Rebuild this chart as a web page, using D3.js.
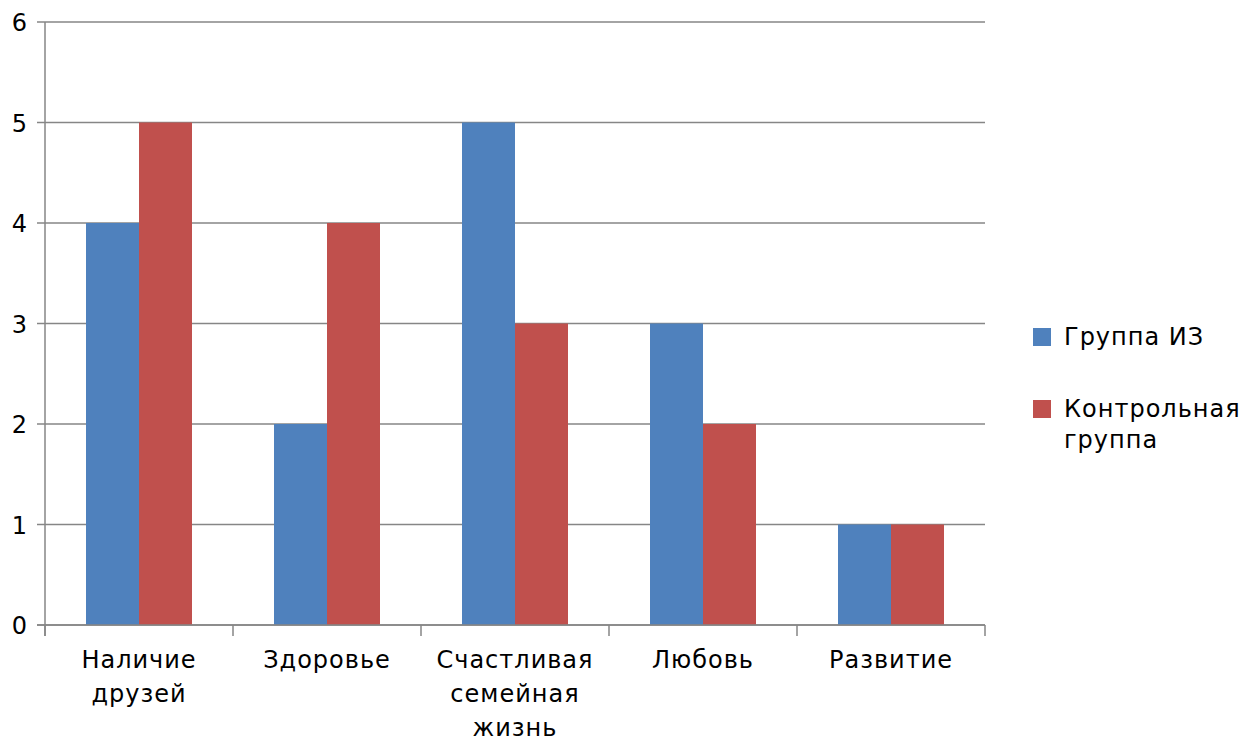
<!DOCTYPE html>
<html>
<head>
<meta charset="utf-8">
<script src="https://cdnjs.cloudflare.com/ajax/libs/d3/7.8.5/d3.min.js"></script>
<style>
  body { margin: 0; background: #fff; }
  text { font-family: 'DejaVu Sans', Verdana, sans-serif; fill: #000; letter-spacing: 1px; }
</style>
</head>
<body>
<div id="chart"></div>
<script>
// BAR CHART
var w = 1243;
var h = 745;

// Data
var categories = [
	['Наличие', 'друзей'],
	['Здоровье'],
	['Счастливая', 'семейная', 'жизнь'],
	['Любовь'],
	['Развитие']
];
var seriesNames = ['Группа ИЗ', ['Контрольная', 'группа']];
var groupIZ = [4, 2, 5, 3, 1];
var controlGroup = [5, 4, 3, 2, 1];
var yTicks = [0, 1, 2, 3, 4, 5, 6];
var colors = ['#4F81BD', '#C0504D'];

var m = { left: 45, right: 985, top: 22, bottom: 625 };
var fontSize = 24;

var svg = d3.select('#chart').append('svg')
	.attr('width', w)
	.attr('height', h);

var x = d3.scaleBand()
	.domain(d3.range(categories.length))
	.range([m.left, m.right])
	.padding(0);

var y = d3.scaleLinear()
	.domain([0, 6])
	.range([m.bottom, m.top]);

var barW = 53;

// gridlines
svg.selectAll('line.grid')
	.data(yTicks)
	.enter()
	.append('line')
	.attr('x1', m.left - 8)
	.attr('x2', m.right)
	.attr('y1', function (d) { return y(d); })
	.attr('y2', function (d) { return y(d); })
	.attr('stroke', '#868686')
	.attr('stroke-width', 1.5);

// y labels
svg.selectAll('text.ylab')
	.data(yTicks)
	.enter()
	.append('text')
	.text(function (d) { return d; })
	.attr('x', 28)
	.attr('y', function (d) { return y(d) + 9; })
	.attr('text-anchor', 'end')
	.attr('font-size', fontSize + 'px');

// bars
var series = [groupIZ, controlGroup];
series.forEach(function (vals, si) {
	svg.selectAll('rect.s' + si)
		.data(vals)
		.enter()
		.append('rect')
		.attr('x', function (d, i) { return x(i) + x.bandwidth() / 2 - barW + si * barW; })
		.attr('y', function (d) { return y(d); })
		.attr('width', barW)
		.attr('height', function (d) { return y(0) - y(d); })
		.attr('fill', colors[si]);
});

// y axis line
svg.append('line')
	.attr('x1', m.left).attr('x2', m.left)
	.attr('y1', m.top).attr('y2', m.bottom + 11)
	.attr('stroke', '#868686')
	.attr('stroke-width', 1.5);

// x axis line + ticks
svg.append('line')
	.attr('x1', m.left - 8).attr('x2', m.right)
	.attr('y1', m.bottom).attr('y2', m.bottom)
	.attr('stroke', '#868686')
	.attr('stroke-width', 1.5);

svg.selectAll('line.xtick')
	.data(d3.range(categories.length + 1))
	.enter()
	.append('line')
	.attr('x1', function (d) { return m.left + d * x.step(); })
	.attr('x2', function (d) { return m.left + d * x.step(); })
	.attr('y1', m.bottom)
	.attr('y2', m.bottom + 11)
	.attr('stroke', '#868686')
	.attr('stroke-width', 1.5);

// x labels
var xl = svg.selectAll('text.xlab')
	.data(categories)
	.enter()
	.append('text')
	.attr('text-anchor', 'middle')
	.attr('font-size', fontSize + 'px');

xl.selectAll('tspan')
	.data(function (d, i) { return d.map(function (t) { return { t: t, i: i }; }); })
	.enter()
	.append('tspan')
	.attr('x', function (d) { return x(d.i) + x.bandwidth() / 2; })
	.attr('y', function (d, j) { return 668 + j * 34; })
	.text(function (d) { return d.t; });

// legend
var legY = [328, 400];
seriesNames.forEach(function (name, si) {
	svg.append('rect')
		.attr('x', 1033)
		.attr('y', legY[si])
		.attr('width', 18)
		.attr('height', 18)
		.attr('fill', colors[si]);
	var lines = Array.isArray(name) ? name : [name];
	var t = svg.append('text')
		.attr('font-size', fontSize + 'px');
	lines.forEach(function (l, j) {
		t.append('tspan')
			.attr('x', 1064)
			.attr('y', legY[si] + 17 + j * 31)
			.text(l);
	});
});
</script>
</body>
</html>
